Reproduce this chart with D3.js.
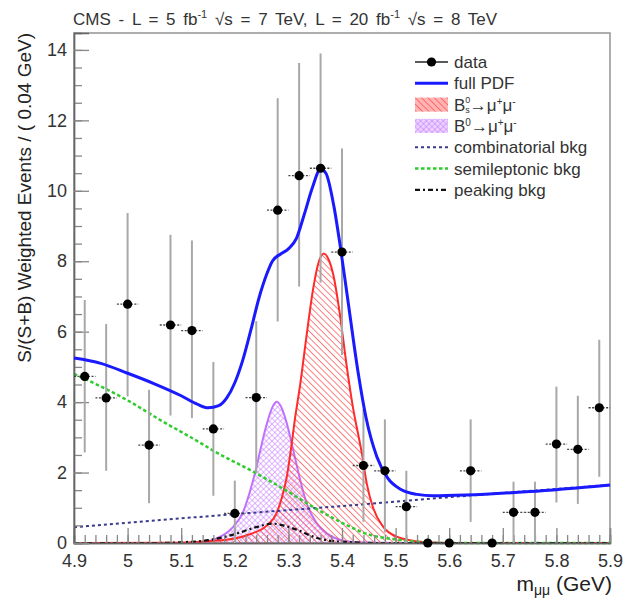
<!DOCTYPE html>
<html>
<head>
<meta charset="utf-8">
<script src="https://cdn.jsdelivr.net/npm/d3@7"></script>
<style>
body { margin: 0; background: #fff; }
svg { font-family: "Liberation Sans", Arial, Helvetica, sans-serif; }
</style>
</head>
<body>
<div id="chart"></div>
<script>
// data points (bin width 0.04 GeV)
var binCenters = [4.92, 4.96, 5.00, 5.04, 5.08, 5.12, 5.16, 5.20, 5.24, 5.28, 5.32, 5.36, 5.40,
                  5.44, 5.48, 5.52, 5.56, 5.60, 5.64, 5.68, 5.72, 5.76, 5.80, 5.84, 5.88];
var eventValues = [4.73, 4.12, 6.78, 2.78, 6.19, 6.03, 3.24, 0.84, 4.13, 9.45, 10.43, 10.64, 8.26,
                   2.20, 2.05, 1.03, 0, 0, 2.05, 0, 0.87, 0.87, 2.81, 2.66, 3.84];
var errorLow = [2.57, 2.05, 4.16, 1.13, 3.62, 3.55, 1.34, 0, 2.0, 6.29, 7.28, 7.39, 5.34,
                0.60, 0.30, 0, 0, 0, 0.60, 0, 0, 0, 1.15, 1.11, 1.88];
var errorHigh = [6.90, 6.22, 9.37, 4.35, 8.75, 8.59, 5.14, 1.77, 6.3, 12.63, 13.63, 13.90, 11.20,
                 3.80, 3.51, 2.05, 0, 0, 3.51, 0, 1.74, 1.74, 4.44, 4.18, 5.77];
var binHalfWidth = 0.02;

// fitted components
var fullPdfX = [4.90, 4.95, 5.00, 5.05, 5.10, 5.13, 5.15, 5.17, 5.185, 5.20, 5.215, 5.23, 5.245, 5.26,
                5.27, 5.285, 5.30, 5.315, 5.33, 5.345, 5.36, 5.37, 5.385, 5.397, 5.41, 5.43, 5.445,
                5.465, 5.485, 5.51, 5.54, 5.57, 5.63, 5.75, 5.90];
var fullPdfY = [5.25, 5.10, 4.82, 4.52, 4.18, 3.94, 3.84, 3.90, 4.12, 4.55, 5.20, 6.05, 6.95, 7.65,
                8.00, 8.20, 8.35, 8.65, 9.35, 10.10, 10.62, 10.50, 9.55, 8.40, 7.00, 4.85, 3.55,
                2.45, 1.85, 1.52, 1.38, 1.34, 1.36, 1.46, 1.65];

var bsX = [4.90, 5.10, 5.15, 5.197, 5.228, 5.26, 5.278, 5.288, 5.297, 5.306, 5.312, 5.322, 5.334,
           5.346, 5.356, 5.366, 5.375, 5.384, 5.396, 5.409, 5.421, 5.43, 5.437, 5.446, 5.458,
           5.477, 5.502, 5.527, 5.56, 5.60, 5.90];
var bsY = [0, 0.01, 0.05, 0.12, 0.25, 0.50, 0.85, 1.30, 1.88, 2.80, 3.50, 4.50, 5.90,
           7.20, 7.95, 8.22, 8.05, 7.60, 6.50, 5.00, 3.80, 3.10, 2.55, 1.70, 1.00,
           0.46, 0.18, 0.08, 0.02, 0, 0];

var bdX = [4.90, 5.10, 5.135, 5.166, 5.197, 5.216, 5.228, 5.238, 5.247, 5.26, 5.27, 5.278, 5.287,
           5.297, 5.309, 5.322, 5.334, 5.353, 5.371, 5.396, 5.43, 5.50, 5.90];
var bdY = [0, 0, 0.02, 0.13, 0.46, 0.90, 1.45, 2.00, 2.60, 3.40, 3.85, 4.01, 3.85,
           3.40, 2.64, 1.79, 1.13, 0.56, 0.28, 0.09, 0.02, 0, 0];

var combX = [4.90, 5.20, 5.40, 5.60, 5.90];
var combY = [0.45, 0.82, 1.05, 1.30, 1.65];

var semilepX = [4.90, 5.00, 5.06, 5.135, 5.16, 5.235, 5.31, 5.334, 5.378, 5.415, 5.452, 5.49, 5.53, 5.56, 5.60, 5.90];
var semilepY = [4.80, 4.05, 3.50, 2.85, 2.62, 2.02, 1.36, 1.13, 0.75, 0.46, 0.23, 0.12, 0.05, 0.01, 0, 0];

var peakX = [4.90, 5.05, 5.10, 5.15, 5.20, 5.24, 5.27, 5.29, 5.32, 5.35, 5.38, 5.42, 5.46, 5.90];
var peakY = [0, 0, 0.02, 0.08, 0.25, 0.45, 0.55, 0.50, 0.35, 0.16, 0.06, 0.02, 0, 0];

var xTickValues = [4.9, 5.0, 5.1, 5.2, 5.3, 5.4, 5.5, 5.6, 5.7, 5.8, 5.9];
var yTickValues = [0, 2, 4, 6, 8, 10, 12, 14];

var legendLabels = ["data", "full PDF", "Bs", "Bd", "combinatorial bkg", "semileptonic bkg", "peaking bkg"];

var svgWidth = 624;
var svgHeight = 603;
var margin = {top: 33, right: 14, bottom: 60, left: 74};
var chartWidth = svgWidth - margin.left - margin.right;
var chartHeight = svgHeight - margin.top - margin.bottom;

var svg = d3.select("#chart")
  .append("svg")
  .attr("width", svgWidth)
  .attr("height", svgHeight);

var defs = svg.append("defs");

var redHatch = defs.append("pattern")
  .attr("id", "redHatch")
  .attr("patternUnits", "userSpaceOnUse")
  .attr("width", 4.5).attr("height", 4.5)
  .attr("patternTransform", "rotate(-45)");
redHatch.append("line")
  .attr("x1", 0).attr("y1", 0).attr("x2", 0).attr("y2", 4.5)
  .attr("stroke", "#ff4d4d").attr("stroke-width", 1.4);

var violetHatch = defs.append("pattern")
  .attr("id", "violetHatch")
  .attr("patternUnits", "userSpaceOnUse")
  .attr("width", 4).attr("height", 4)
  .attr("patternTransform", "rotate(45)");
violetHatch.append("line")
  .attr("x1", 0).attr("y1", 0).attr("x2", 0).attr("y2", 4)
  .attr("stroke", "#c77dff").attr("stroke-width", 1.1);
violetHatch.append("line")
  .attr("x1", 0).attr("y1", 0).attr("x2", 4).attr("y2", 0)
  .attr("stroke", "#c77dff").attr("stroke-width", 1.1);

var chartGroup = svg.append("g")
  .attr("transform", `translate(${margin.left}, ${margin.top})`);

var xScale = d3.scaleLinear()
  .domain([4.9, 5.9])
  .range([0, chartWidth]);

var yScale = d3.scaleLinear()
  .domain([0, 14.48])
  .range([chartHeight, 0]);

// frame
chartGroup.append("rect")
  .attr("x", 0).attr("y", 0)
  .attr("width", chartWidth).attr("height", chartHeight)
  .attr("fill", "none")
  .attr("stroke", "#999")
  .attr("stroke-width", 1.6);

function pts(xs, ys) {
  return xs.map((d, i) => [d, ys[i]]);
}

var line = d3.line()
  .x(d => xScale(d[0]))
  .y(d => yScale(d[1]))
  .curve(d3.curveMonotoneX);

var area = d3.area()
  .x(d => xScale(d[0]))
  .y0(yScale(0))
  .y1(d => yScale(d[1]))
  .curve(d3.curveMonotoneX);

// B0 -> mu mu (violet crosshatch)
chartGroup.append("path")
  .datum(pts(bdX, bdY))
  .attr("d", area)
  .attr("fill", "url(#violetHatch)");
chartGroup.append("path")
  .datum(pts(bdX, bdY))
  .attr("d", line)
  .attr("fill", "none")
  .attr("stroke", "#c070ff")
  .attr("stroke-width", 2);

// Bs -> mu mu (red hatch)
chartGroup.append("path")
  .datum(pts(bsX, bsY))
  .attr("d", area)
  .attr("fill", "url(#redHatch)");
chartGroup.append("path")
  .datum(pts(bsX, bsY))
  .attr("d", line)
  .attr("fill", "none")
  .attr("stroke", "#ff2a2a")
  .attr("stroke-width", 2);

// backgrounds
chartGroup.append("path")
  .datum(pts(combX, combY))
  .attr("d", line)
  .attr("fill", "none")
  .attr("stroke", "#3a3a8c")
  .attr("stroke-width", 2)
  .attr("stroke-dasharray", "3,3");

chartGroup.append("path")
  .datum(pts(semilepX, semilepY))
  .attr("d", line)
  .attr("fill", "none")
  .attr("stroke", "#2ecc2e")
  .attr("stroke-width", 2.5)
  .attr("stroke-dasharray", "3.5,2.5");

chartGroup.append("path")
  .datum(pts(peakX, peakY))
  .attr("d", line)
  .attr("fill", "none")
  .attr("stroke", "#111")
  .attr("stroke-width", 2.2)
  .attr("stroke-dasharray", "5,3,2,3");

// axes
var xAxis = d3.axisBottom(xScale)
  .tickValues(xTickValues)
  .tickSize(-15)
  .tickPadding(11)
  .tickFormat(d => String(+d.toFixed(2)));

var xMinor = d3.axisBottom(xScale)
  .tickValues(d3.range(0, 51).map(i => 4.9 + i * 0.02))
  .tickSize(-8)
  .tickFormat("");

var yAxis = d3.axisLeft(yScale)
  .tickValues(yTickValues)
  .tickSize(-15)
  .tickPadding(7);

var yMinor = d3.axisLeft(yScale)
  .tickValues(d3.range(0, 29).map(i => i * 0.5))
  .tickSize(-8)
  .tickFormat("");

function styleAxis(g) {
  g.select(".domain").attr("stroke", "#666").attr("stroke-width", 1.4);
  g.selectAll(".tick line").attr("stroke", "#888").attr("stroke-width", 1.3);
  g.selectAll(".tick text").attr("font-size", 18).attr("fill", "#333")
    .attr("font-family", "Liberation Sans, Arial, sans-serif");
}

chartGroup.append("g")
  .attr("transform", `translate(0, ${chartHeight})`)
  .call(xMinor).call(styleAxis);
chartGroup.append("g")
  .attr("transform", `translate(0, ${chartHeight})`)
  .call(xAxis).call(styleAxis);
chartGroup.append("g").call(yMinor).call(styleAxis);
chartGroup.append("g").call(yAxis).call(styleAxis);

// data error bars and markers
var dataPts = binCenters.map((d, i) => ({x: d, y: eventValues[i], lo: errorLow[i], hi: errorHigh[i]}));

chartGroup.append("g")
  .selectAll("line")
  .data(dataPts.filter(d => d.hi > d.lo))
  .enter()
  .append("line")
  .attr("x1", d => xScale(d.x)).attr("x2", d => xScale(d.x))
  .attr("y1", d => yScale(d.lo)).attr("y2", d => yScale(d.hi))
  .attr("stroke", "#a8a8a8")
  .attr("stroke-width", 2);

chartGroup.append("g")
  .selectAll("line")
  .data(dataPts)
  .enter()
  .append("line")
  .attr("x1", d => xScale(d.x - binHalfWidth)).attr("x2", d => xScale(d.x + binHalfWidth))
  .attr("y1", d => yScale(d.y)).attr("y2", d => yScale(d.y))
  .attr("stroke", "#444")
  .attr("stroke-width", 1.3)
  .attr("stroke-dasharray", "2,1.5");

// full PDF
chartGroup.append("path")
  .datum(pts(fullPdfX, fullPdfY))
  .attr("d", line)
  .attr("fill", "none")
  .attr("stroke", "#1a1aff")
  .attr("stroke-width", 3);

chartGroup.append("g")
  .selectAll("circle")
  .data(dataPts)
  .enter()
  .append("circle")
  .attr("cx", d => xScale(d.x))
  .attr("cy", d => yScale(d.y))
  .attr("r", 4.6)
  .attr("fill", "#000");

// axis titles
svg.append("text")
  .attr("transform", "translate(31, 33) rotate(-90)")
  .attr("text-anchor", "end")
  .attr("font-size", 19)
  .attr("fill", "#222")
  .text("S/(S+B) Weighted Events / ( 0.04 GeV)");

var xTitle = svg.append("text")
  .attr("x", 612)
  .attr("y", 591)
  .attr("text-anchor", "end")
  .attr("font-size", 21)
  .attr("fill", "#222");
xTitle.append("tspan").text("m");
xTitle.append("tspan").attr("font-size", 14).attr("dy", 4).text("μμ");
xTitle.append("tspan").attr("dy", -4).text(" (GeV)");

// header
var title = svg.append("text")
  .attr("x", 73)
  .attr("y", 25)
  .attr("font-size", 17)
  .attr("word-spacing", 3)
  .attr("fill", "#333");
title.append("tspan").text("CMS - L = 5 fb");
title.append("tspan").attr("font-size", 11).attr("dy", -7).text("-1");
title.append("tspan").attr("dy", 7).text(" √s = 7 TeV, L = 20 fb");
title.append("tspan").attr("font-size", 11).attr("dy", -7).text("-1");
title.append("tspan").attr("dy", 7).text("  √s = 8 TeV");

// legend
var legend = svg.append("g").attr("transform", "translate(415, 62)");
var rowStep = 21.3;
var symW = 33;

legendLabels.forEach(function(lab, i) {
  var row = legend.append("g").attr("transform", `translate(0, ${i * rowStep})`);
  if (i === 0) {
    row.append("line").attr("x1", 0).attr("x2", symW).attr("y1", 0).attr("y2", 0)
      .attr("stroke", "#222").attr("stroke-width", 1.5);
    row.append("circle").attr("cx", symW / 2).attr("cy", 0).attr("r", 4.6).attr("fill", "#000");
  } else if (i === 1) {
    row.append("line").attr("x1", 0).attr("x2", symW).attr("y1", 0).attr("y2", 0)
      .attr("stroke", "#1a1aff").attr("stroke-width", 3);
  } else if (i === 2) {
    row.append("rect").attr("x", 0).attr("y", -7).attr("width", symW).attr("height", 14)
      .attr("fill", "#ffb3b3");
    row.append("rect").attr("x", 0).attr("y", -7).attr("width", symW).attr("height", 14)
      .attr("fill", "url(#redHatch)");
  } else if (i === 3) {
    row.append("rect").attr("x", 0).attr("y", -7).attr("width", symW).attr("height", 14)
      .attr("fill", "#ecd2ff");
    row.append("rect").attr("x", 0).attr("y", -7).attr("width", symW).attr("height", 14)
      .attr("fill", "url(#violetHatch)");
  } else if (i === 4) {
    row.append("line").attr("x1", 0).attr("x2", symW).attr("y1", 0).attr("y2", 0)
      .attr("stroke", "#3a3a8c").attr("stroke-width", 2).attr("stroke-dasharray", "3,3");
  } else if (i === 5) {
    row.append("line").attr("x1", 0).attr("x2", symW).attr("y1", 0).attr("y2", 0)
      .attr("stroke", "#2ecc2e").attr("stroke-width", 2.5).attr("stroke-dasharray", "3.5,2.5");
  } else {
    row.append("line").attr("x1", 0).attr("x2", symW).attr("y1", 0).attr("y2", 0)
      .attr("stroke", "#111").attr("stroke-width", 2.2).attr("stroke-dasharray", "5,3,2,3");
  }

  var t = row.append("text").attr("x", 39).attr("y", 6).attr("font-size", 17).attr("fill", "#333");
  if (lab === "Bs") {
    t.append("tspan").text("B");
    t.append("tspan").attr("font-size", 9).attr("dy", -8).text("0");
    t.append("tspan").attr("font-size", 9).attr("dx", -5).attr("dy", 10).text("s");
    t.append("tspan").attr("dy", -2).text("→μ");
  } else if (lab === "Bd") {
    t.append("tspan").text("B");
    t.append("tspan").attr("font-size", 10).attr("dy", -6).text("0");
    t.append("tspan").attr("dy", 6).text("→μ");
  } else {
    t.text(lab);
  }
  if (lab === "Bs" || lab === "Bd") {
    t.append("tspan").attr("font-size", 10).attr("dy", -6).text("+");
    t.append("tspan").attr("dy", 6).text("μ");
    t.append("tspan").attr("font-size", 10).attr("dy", -6).text("-");
  }
});
</script>
</body>
</html>
